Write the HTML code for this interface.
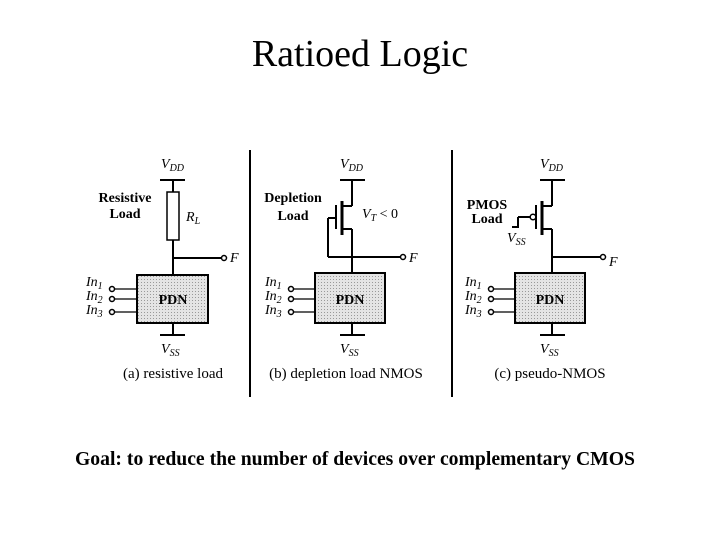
<!DOCTYPE html>
<html><head><style>
body{margin:0;background:#fff;width:720px;height:540px;overflow:hidden}
</style></head><body>
<svg width="720" height="540" viewBox="0 0 720 540" xmlns="http://www.w3.org/2000/svg" font-family="Liberation Serif, serif">
<defs>
<pattern id="dots" width="3" height="3" patternUnits="userSpaceOnUse">
<rect width="3" height="3" fill="#e4e4e4"/><rect width="1" height="1" fill="#999"/>
</pattern>
</defs>
<text x="360" y="66" font-size="38" text-anchor="middle">Ratioed Logic</text>

<g stroke="#000" stroke-width="2" fill="none">
<line x1="250" y1="150" x2="250" y2="397"/>
<line x1="452" y1="150" x2="452" y2="397"/>
</g>

<!-- Panel A -->
<g stroke="#000" stroke-width="2" fill="none">
<line x1="160" y1="180" x2="185" y2="180"/>
<line x1="173" y1="180" x2="173" y2="192"/>
<rect x="167" y="192" width="12" height="48" stroke-width="1.5"/>
<line x1="173" y1="240" x2="173" y2="275"/>
<line x1="173" y1="258" x2="221" y2="258"/>
<line x1="173" y1="323" x2="173" y2="335"/>
<line x1="160" y1="335" x2="185" y2="335"/>
<line x1="114" y1="289" x2="137" y2="289" stroke-width="1.2"/>
<line x1="114" y1="299" x2="137" y2="299" stroke-width="1.2"/>
<line x1="114" y1="312" x2="137" y2="312" stroke-width="1.2"/>
</g>
<rect x="137" y="275" width="71" height="48" fill="url(#dots)" stroke="#000" stroke-width="2"/>
<g fill="#fff" stroke="#000" stroke-width="1.5">
<circle cx="224" cy="258" r="2.5"/><circle cx="112" cy="289" r="2.5"/><circle cx="112" cy="299" r="2.5"/><circle cx="112" cy="312" r="2.5"/>
</g>

<!-- Panel B -->
<g stroke="#000" stroke-width="2" fill="none">
<line x1="340" y1="180" x2="365" y2="180"/>
<line x1="352" y1="180" x2="352" y2="206"/>
<line x1="341" y1="206" x2="352" y2="206"/>
<line x1="341" y1="229" x2="352" y2="229"/>
<line x1="352" y1="229" x2="352" y2="273"/>
<line x1="342" y1="201" x2="342" y2="235" stroke-width="3"/>
<line x1="336" y1="205" x2="336" y2="229"/>
<line x1="328" y1="218" x2="336" y2="218"/>
<line x1="328" y1="218" x2="328" y2="257"/>
<line x1="328" y1="257" x2="400" y2="257"/>
<line x1="352" y1="323" x2="352" y2="335"/>
<line x1="340" y1="335" x2="365" y2="335"/>
<line x1="293" y1="289" x2="315" y2="289" stroke-width="1.2"/>
<line x1="293" y1="299" x2="315" y2="299" stroke-width="1.2"/>
<line x1="293" y1="312" x2="315" y2="312" stroke-width="1.2"/>
</g>
<rect x="315" y="273" width="70" height="50" fill="url(#dots)" stroke="#000" stroke-width="2"/>
<g fill="#fff" stroke="#000" stroke-width="1.5">
<circle cx="403" cy="257" r="2.5"/><circle cx="291" cy="289" r="2.5"/><circle cx="291" cy="299" r="2.5"/><circle cx="291" cy="312" r="2.5"/>
</g>

<!-- Panel C -->
<g stroke="#000" stroke-width="2" fill="none">
<line x1="540" y1="180" x2="565" y2="180"/>
<line x1="552" y1="180" x2="552" y2="206"/>
<line x1="541" y1="206" x2="552" y2="206"/>
<line x1="541" y1="229" x2="552" y2="229"/>
<line x1="552" y1="229" x2="552" y2="273"/>
<line x1="542" y1="201" x2="542" y2="235" stroke-width="3"/>
<line x1="536" y1="205" x2="536" y2="229"/>
<line x1="518" y1="217" x2="530" y2="217"/>
<line x1="518" y1="217" x2="518" y2="227"/>
<line x1="512" y1="227" x2="519" y2="227"/>
<line x1="552" y1="257" x2="600" y2="257"/>
<line x1="552" y1="323" x2="552" y2="335"/>
<line x1="540" y1="335" x2="565" y2="335"/>
<line x1="493" y1="289" x2="515" y2="289" stroke-width="1.2"/>
<line x1="493" y1="299" x2="515" y2="299" stroke-width="1.2"/>
<line x1="493" y1="312" x2="515" y2="312" stroke-width="1.2"/>
</g>
<rect x="515" y="273" width="70" height="50" fill="url(#dots)" stroke="#000" stroke-width="2"/>
<g fill="#fff" stroke="#000" stroke-width="1.5">
<circle cx="533" cy="217" r="2.8"/>
<circle cx="603" cy="257" r="2.5"/><circle cx="491" cy="289" r="2.5"/><circle cx="491" cy="299" r="2.5"/><circle cx="491" cy="312" r="2.5"/>
</g>

<!-- Labels -->
<g font-size="14" font-style="italic">
<text x="161" y="168">V<tspan font-size="10" dy="3">DD</tspan></text>
<text x="340" y="168">V<tspan font-size="10" dy="3">DD</tspan></text>
<text x="540" y="168">V<tspan font-size="10" dy="3">DD</tspan></text>
<text x="161" y="353">V<tspan font-size="10" dy="3">SS</tspan></text>
<text x="340" y="353">V<tspan font-size="10" dy="3">SS</tspan></text>
<text x="540" y="353">V<tspan font-size="10" dy="3">SS</tspan></text>
<text x="507" y="242">V<tspan font-size="10" dy="3">SS</tspan></text>
<text x="186" y="221">R<tspan font-size="10" dy="3">L</tspan></text>
<text x="362" y="218">V<tspan font-size="10" dy="3">T</tspan><tspan dy="-3" font-style="normal"> &lt; 0</tspan></text>
<text x="230" y="262">F</text><text x="409" y="262">F</text><text x="609" y="266">F</text>
<text x="86" y="286">In<tspan font-size="10" dy="3">1</tspan></text>
<text x="86" y="300">In<tspan font-size="10" dy="3">2</tspan></text>
<text x="86" y="314">In<tspan font-size="10" dy="3">3</tspan></text>
<text x="265" y="286">In<tspan font-size="10" dy="3">1</tspan></text>
<text x="265" y="300">In<tspan font-size="10" dy="3">2</tspan></text>
<text x="265" y="314">In<tspan font-size="10" dy="3">3</tspan></text>
<text x="465" y="286">In<tspan font-size="10" dy="3">1</tspan></text>
<text x="465" y="300">In<tspan font-size="10" dy="3">2</tspan></text>
<text x="465" y="314">In<tspan font-size="10" dy="3">3</tspan></text>
</g>
<g font-size="14" font-weight="bold" text-anchor="middle">
<text x="125" y="202">Resistive</text><text x="125" y="218">Load</text>
<text x="293" y="202">Depletion</text><text x="293" y="220">Load</text>
<text x="487" y="209">PMOS</text><text x="487" y="223">Load</text>
<text x="173" y="304">PDN</text><text x="350" y="304">PDN</text><text x="550" y="304">PDN</text>
</g>
<g font-size="15" text-anchor="middle">
<text x="173" y="378">(a) resistive load</text>
<text x="346" y="378">(b) depletion load NMOS</text>
<text x="550" y="378">(c) pseudo-NMOS</text>
</g>
<text x="355" y="465" font-size="19.5" font-weight="bold" text-anchor="middle" textLength="560" lengthAdjust="spacingAndGlyphs">Goal: to reduce the number of devices over complementary CMOS</text>
</svg>
</body></html>
